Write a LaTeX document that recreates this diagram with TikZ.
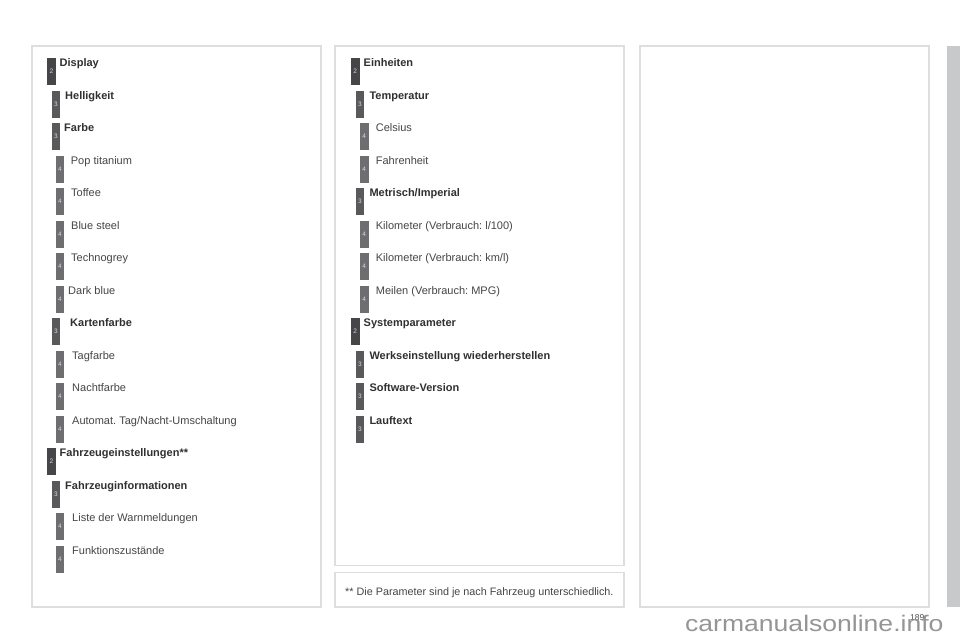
\documentclass[tikz,border=0pt]{standalone}
\usepackage{fontspec}
\setmainfont{Liberation Sans}
\frenchspacing
\definecolor{lvA}{HTML}{464648}
\definecolor{lvB}{HTML}{59595B}
\definecolor{lvC}{HTML}{6E6E71}
\definecolor{digit}{HTML}{D6D6D6}
\definecolor{frame}{HTML}{DEDEDE}
\definecolor{bar}{HTML}{C8C9CB}
\definecolor{hdtext}{HTML}{303030}
\definecolor{ittext}{HTML}{454545}
\definecolor{wm}{HTML}{959595}
\newcommand\menuitem[7]{%
  \node[bdg#2, anchor=north west] (#1b) at (#3,#5) {#2};
  \node[#6, anchor=base west] (#1) at (#4,#5+8.6) {#7};
}
\begin{document}
\begin{tikzpicture}[x=1pt,y=-1pt,
  bdg2/.style={fill=lvA, minimum width=8.7pt, minimum height=27pt, inner sep=0pt, text=digit, font=\fontsize{6.5}{7}\selectfont},
  bdg3/.style={bdg2, fill=lvB},
  bdg4/.style={bdg2, fill=lvC},
  hd/.style={inner sep=0pt, text=hdtext, font=\fontsize{11}{13}\selectfont\bfseries},
  it/.style={inner sep=0pt, text=ittext, font=\fontsize{11}{13}\selectfont},
  panel/.style={draw=frame, line width=1.2pt, fill=white}]
\useasboundingbox (0,0) rectangle (960,640);
\fill[white] (0,0) rectangle (960,640);
% panels
\draw[panel] (32,46) rectangle (321,607);
\draw[panel] (335,46) rectangle (624,565.5);
\draw[panel] (335,572.5) rectangle (624,607);
\draw[panel] (640,46) rectangle (929,607);
\fill[bar] (947,46) rectangle (960,607);
% left column
\menuitem{a1}{2}{47}{59.5}{58}{hd}{Display}
\menuitem{a2}{3}{51.5}{65}{90.5}{hd}{Helligkeit}
\menuitem{a3}{3}{51.5}{64}{123}{hd}{Farbe}
\menuitem{a4}{4}{55.5}{70.7}{155.5}{it}{Pop titanium}
\menuitem{a5}{4}{55.5}{71}{188}{it}{Toffee}
\menuitem{a6}{4}{55.5}{71}{220.5}{it}{Blue steel}
\menuitem{a7}{4}{55.5}{71}{253}{it}{Technogrey}
\menuitem{a8}{4}{55.5}{68}{285.5}{it}{Dark blue}
\menuitem{a9}{3}{51.5}{70}{318}{hd}{Kartenfarbe}
\menuitem{a10}{4}{55.5}{72}{350.5}{it}{Tagfarbe}
\menuitem{a11}{4}{55.5}{72}{383}{it}{Nachtfarbe}
\menuitem{a12}{4}{55.5}{72}{415.5}{it}{Automat. Tag/Nacht-Umschaltung}
\menuitem{a13}{2}{47}{59.5}{448}{hd}{Fahrzeugeinstellungen**}
\menuitem{a14}{3}{51.5}{65}{480.5}{hd}{Fahrzeuginformationen}
\menuitem{a15}{4}{55.5}{72}{513}{it}{Liste der Warnmeldungen}
\menuitem{a16}{4}{55.5}{72}{545.5}{it}{Funktionszustände}
% right column
\menuitem{b1}{2}{350.7}{363.5}{58}{hd}{Einheiten}
\menuitem{b2}{3}{355.3}{369.3}{90.5}{hd}{Temperatur}
\menuitem{b3}{4}{359.7}{375.7}{123}{it}{Celsius}
\menuitem{b4}{4}{359.7}{375.7}{155.5}{it}{Fahrenheit}
\menuitem{b5}{3}{355.3}{369.3}{188}{hd}{Metrisch/Imperial}
\menuitem{b6}{4}{359.7}{375.7}{220.5}{it}{Kilometer (Verbrauch: l/100)}
\menuitem{b7}{4}{359.7}{375.7}{253}{it}{Kilometer (Verbrauch: km/l)}
\menuitem{b8}{4}{359.7}{375.7}{285.5}{it}{Meilen (Verbrauch: MPG)}
\menuitem{b9}{2}{350.7}{363.5}{318}{hd}{Systemparameter}
\menuitem{b10}{3}{355.3}{369.3}{350.5}{hd}{Werkseinstellung wiederherstellen}
\menuitem{b11}{3}{355.3}{369.3}{383}{hd}{Software-Version}
\menuitem{b12}{3}{355.3}{369.3}{415.5}{hd}{Lauftext}
% footnote
\node[it, anchor=base west, font=\fontsize{10.8}{13}\selectfont] (foot) at (345,595.5) {** Die Parameter sind je nach Fahrzeug unterschiedlich.};
% page number and watermark
\node[inner sep=0pt, anchor=base west, text=black!70, font=\fontsize{8.5}{10}\selectfont] (page) at (910,620) {189};
\node[inner sep=0pt, anchor=base west, text=wm, font=\fontsize{22.5}{26}\selectfont] (mark) at (685,631.5) {\scalebox{1.18}[1]{carmanualsonline.info}};
\end{tikzpicture}
\end{document}
